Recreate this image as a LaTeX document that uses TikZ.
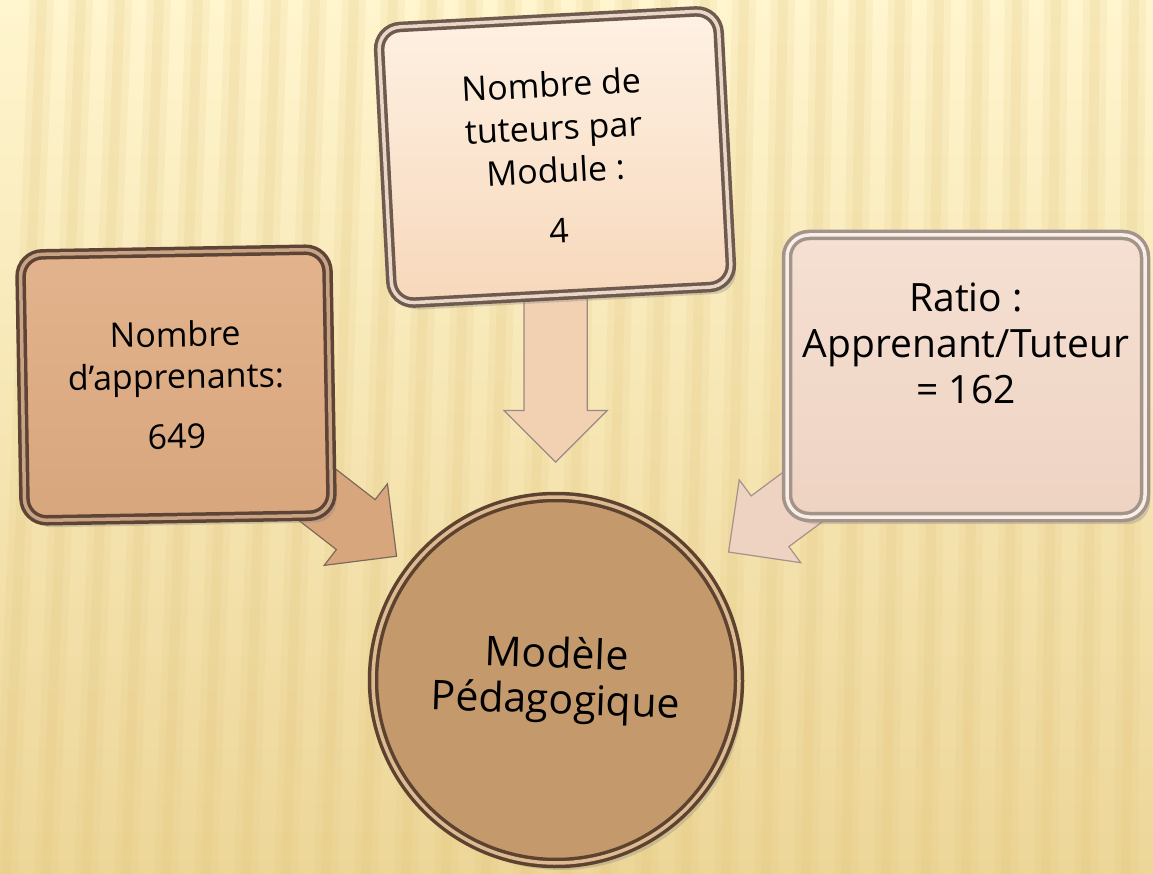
\documentclass[tikz,border=0pt]{standalone}
\usepackage{fontspec}
\setmainfont{Open Sans}
\usetikzlibrary{calc,shapes.arrows,shadows}
\pgfdeclarelayer{back}
\pgfsetlayers{back,main}

\definecolor{bgtop}{HTML}{FFF5CE}
\definecolor{bgbot}{HTML}{EDD698}
\definecolor{stripe}{HTML}{E2C47A}
\definecolor{lefttop}{HTML}{E2B38D}
\definecolor{leftbot}{HTML}{D8A67D}
\definecolor{leftdark}{HTML}{5E4434}
\definecolor{leftlight}{HTML}{C9A386}
\definecolor{midtop}{HTML}{FEF1E4}
\definecolor{midbot}{HTML}{F7D8BB}
\definecolor{middark}{HTML}{6E5A4E}
\definecolor{midlight}{HTML}{EAD7C7}
\definecolor{righttop}{HTML}{F5E0D3}
\definecolor{rightbot}{HTML}{EED3C2}
\definecolor{rightdark}{HTML}{A39389}
\definecolor{rightlight}{HTML}{F7EEE8}
\definecolor{modelfill}{HTML}{C49A6D}
\definecolor{modeldark}{HTML}{5E4230}
\definecolor{modellight}{HTML}{DDBB92}

\tikzset{
  box/.style={rectangle, rounded corners=22pt, align=center,
              line width=3.5pt, double distance=3.5pt,
              drop shadow={opacity=.3, shadow xshift=5pt, shadow yshift=-7pt}},
  blockarrow/.style={single arrow, single arrow head extend=20pt,
              single arrow tip angle=90, minimum height=185pt,
              text height=31pt, text depth=31pt, inner sep=0pt,
              line width=1.2pt, anchor=tip},
}

\begin{document}
\begin{tikzpicture}[x=1pt, y=-1pt,
          every node/.style={text=black}]
            \useasboundingbox (0,0) rectangle (1153,874);

            % boxes
            \node[box, draw=leftdark, double=leftlight,
                  top color=lefttop, bottom color=leftbot,
                  minimum width=307pt, minimum height=266pt, rotate=1,
                  font=\fontsize{34}{42}\selectfont]
              (learners) at (176,385) {Nombre\\d’apprenants:\\[18pt]649};

            \node[box, draw=middark, double=midlight,
                  top color=midtop, bottom color=midbot,
                  minimum width=340pt, minimum height=276pt, rotate=3,
                  font=\fontsize{34}{43}\selectfont]
              (tutors) at (555,157) {Nombre de\\tuteurs par\\Module :\\[17pt]4};

            \node[box, draw=rightdark, double=rightlight,
                  top color=righttop, bottom color=rightbot,
                  minimum width=358pt, minimum height=282pt,
                  text depth=66pt,
                  font=\fontsize{39}{46}\selectfont]
              (ratio) at (966,376) {Ratio :\\Apprenant/Tuteur\\= 162};

            % centre
            \node[circle, draw=modeldark, double=modellight,
                  line width=3.5pt, double distance=3.5pt,
                  fill=modelfill, minimum size=366pt, align=center,
                  rotate=-2, font=\fontsize{41}{46}\selectfont,
                  drop shadow={opacity=.3, shadow xshift=5pt, shadow yshift=-7pt}]
              (model) at (556,680) {Modèle\\Pédagogique};

            \begin{pgfonlayer}{back}
              \shade[top color=bgtop, bottom color=bgbot] (0,0) rectangle (1153,874);
              \foreach \x in {0,40,...,1200}{
                \fill[stripe, opacity=.14]
                  (\x+30-\x*.025,0) -- (\x+54-\x*.025,0) -- (\x+18,874) -- (\x-6,874) -- cycle;
                \fill[stripe, opacity=.16]
                  (\x+37-\x*.025,0) -- (\x+47-\x*.025,0) -- (\x+11,874) -- (\x+1,874) -- cycle;
              }

              % arrows into the centre
              \node[blockarrow, draw=leftdark!80, fill=leftbot, rotate=-37.8]
                (arrL) at ($(model)!201pt!(learners)$) {};
              \node[blockarrow, draw=middark!70, fill=midbot!85!leftbot, rotate=-90]
                (arrT) at ($(model)!217pt!(tutors)$) {};
              \node[blockarrow, draw=rightdark, fill=rightbot, rotate=-143.4]
                (arrR) at ($(model)!214pt!(ratio)$) {};
            \end{pgfonlayer}
          \end{tikzpicture}
\end{document}
